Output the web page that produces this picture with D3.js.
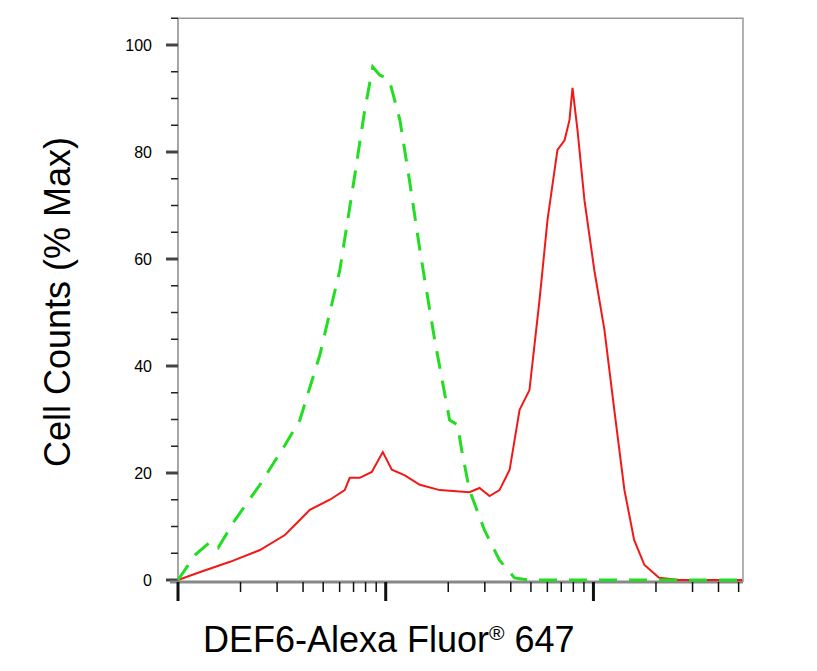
<!DOCTYPE html>
<html><head><meta charset="utf-8">
<script src="https://cdn.jsdelivr.net/npm/d3@7"></script>
<style>body{margin:0;background:#fff;font-family:"Liberation Sans",Arial,sans-serif}</style>
</head><body><div id="chart-area"></div>
<script>
// isotype control (green dashed)
var isoX = [1, 1.21, 1.43, 1.56, 1.88, 2.48, 3.27, 3.86, 4.82, 6.01, 7.10, 7.93, 8.66, 9.35, 10.4, 11.7, 13.0, 14.6, 17.2, 20.3, 22.2, 23.2, 25.3, 29.9, 35.3, 41.7, 49.2, 520];
var isoY = [0, 4.7, 7.1, 6.0, 11.2, 17.8, 25.2, 29.9, 42.1, 57.9, 75.7, 87.9, 95.9, 94.4, 93.5, 86, 74.8, 61.7, 44.9, 29.9, 29, 24.3, 16.8, 9.3, 3.7, 0.4, 0, 0];
// DEF6 stained (red solid)
var defX = [1, 1.28, 1.78, 2.48, 3.27, 3.86, 4.31, 5.38, 6.35, 6.71, 7.50, 8.57, 9.68, 10.7, 12.3, 14.6, 18.2, 25.3, 28.3, 31.6, 35.3, 39.5, 44.1, 49.2, 55.0, 60.1, 67.1, 72.6, 76.7, 79.3, 83.8, 90.5, 101, 113, 126, 141, 157, 176, 207, 259, 520];
var defY = [0, 1.5, 3.4, 5.6, 8.4, 11.2, 13.1, 15, 16.8, 19.1, 19.1, 20.2, 23.9, 20.6, 19.6, 17.8, 16.8, 16.4, 17.2, 15.7, 16.8, 20.6, 31.8, 35.5, 52.3, 67.3, 80.4, 82.2, 86, 92, 84.1, 71, 57.9, 46.7, 31.8, 16.8, 7.5, 2.8, 0.4, 0, 0];
var yTicks = [0, 20, 40, 60, 80, 100];

var svg = d3.select("#chart-area").append("svg").attr("width", 817).attr("height", 671);

var x = d3.scaleLog().domain([1, Math.pow(10, 2.72)]).range([178, 743]);
var y = d3.scaleLinear().domain([0, 100]).range([580, 45]);
var yTop = y(105);

// frame
svg.append("path").attr("d", "M178," + yTop + "H743V582")
    .attr("fill", "none").attr("stroke", "#999").attr("stroke-width", 1.5);

// y axis
svg.append("line").attr("x1", 178).attr("x2", 178).attr("y1", yTop).attr("y2", 582)
    .attr("stroke", "#888").attr("stroke-width", 1.5);
d3.range(0, 106, 5).forEach(function(v){
    var major = v % 20 == 0;
    svg.append("line").attr("x1", major ? 166 : 171).attr("x2", 178)
        .attr("y1", y(v)).attr("y2", y(v))
        .attr("stroke", major ? "#444" : "#222").attr("stroke-width", major ? 3 : 1.5);
});
svg.selectAll(".ylab").data(yTicks).enter().append("text")
    .attr("x", 152).attr("y", function(d){ return y(d) + 6; })
    .attr("text-anchor", "end").attr("font-size", 16).text(function(d){ return d; });

// x axis
svg.append("line").attr("x1", 170).attr("x2", 743).attr("y1", 582).attr("y2", 582)
    .attr("stroke", "#888").attr("stroke-width", 3);
for (var e = 0; e < 3; e++) {
    for (var m = 1; m < 10; m++) {
        var v = m * Math.pow(10, e);
        if (v > x.domain()[1]) break;
        var major = m == 1;
        svg.append("line").attr("x1", x(v)).attr("x2", x(v))
            .attr("y1", 582).attr("y2", major ? 601 : 592)
            .attr("stroke", "#111").attr("stroke-width", major ? 3 : 1.5);
    }
}

var line = d3.line().x(function(d){ return x(d[0]); }).y(function(d){ return y(d[1]); });

svg.append("path").datum(defX.map(function(d, i){ return [d, defY[i]]; }))
    .attr("d", line).attr("fill", "none").attr("stroke", "#f21818").attr("stroke-width", 2);
svg.append("path").datum(isoX.map(function(d, i){ return [d, isoY[i]]; }))
    .attr("d", line).attr("fill", "none").attr("stroke", "#22dd22").attr("stroke-width", 3)
    .attr("stroke-dasharray", "18,12");

// labels
svg.append("text").attr("transform", "translate(70,302) rotate(-90)")
    .attr("text-anchor", "middle").attr("font-size", 36).text("Cell Counts (% Max)");
var xl = svg.append("text").attr("x", 203).attr("y", 652).attr("font-size", 36);
xl.append("tspan").text("DEF6-Alexa Fluor");
xl.append("tspan").attr("font-size", 21).attr("dy", -12).text("®");
xl.append("tspan").attr("dy", 12).text(" 647");
</script></body></html>
